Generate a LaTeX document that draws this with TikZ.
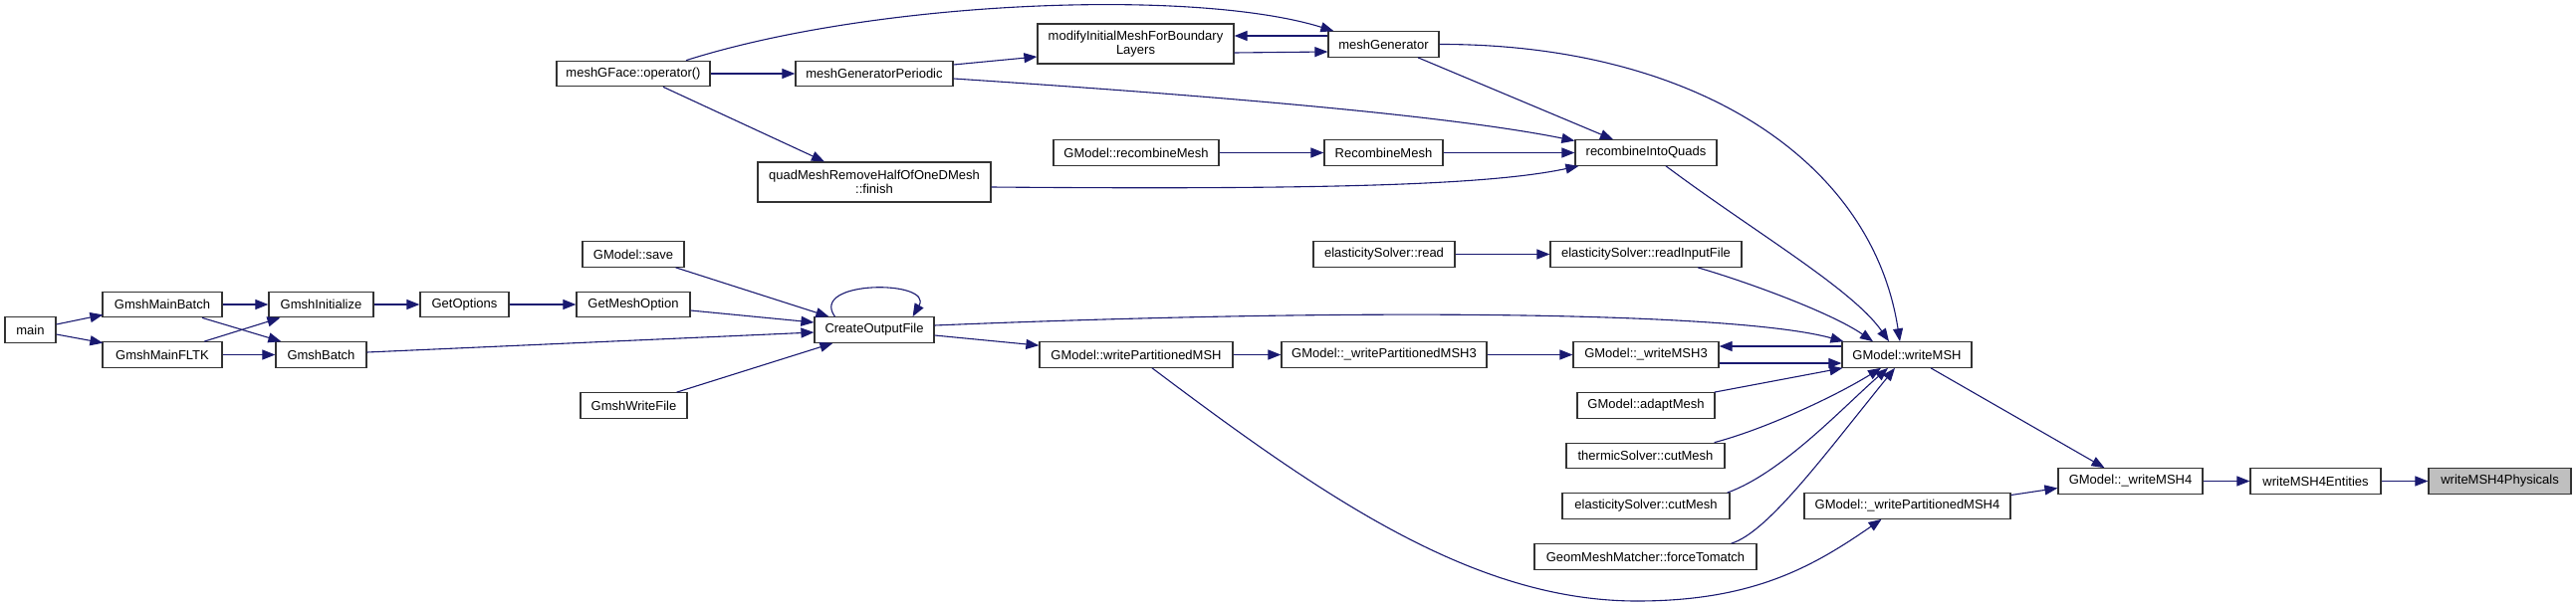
\documentclass[tikz,border=0pt]{standalone}
\usepackage{fontspec}
\setmainfont{Liberation Sans}
\usetikzlibrary{arrows.meta,calc}
\definecolor{edgeblue}{HTML}{191970}
\definecolor{hilite}{HTML}{BFBFBF}
\begin{document}
\begin{tikzpicture}[x=1pt,y=-1pt,
  fn/.style={draw=black!80,line width=1.2pt,fill=white,inner sep=0pt,minimum height=25.5pt,align=center,font=\fontsize{13}{14.5}\selectfont},
  fntwo/.style={fn,minimum height=40pt},
  call/.style={draw=edgeblue,line width=1.1pt,-{Triangle[length=13pt,width=10pt]}}]
\useasboundingbox (0,0) rectangle (2587,608);
% nodes
\node[fn,minimum width=51pt] (main) at (30.5,331.5) {main};
\node[fn,minimum width=120pt] (mbatch) at (163,306) {GmshMainBatch};
\node[fn,minimum width=120pt] (mfltk) at (163,356.5) {GmshMainFLTK};
\node[fn,minimum width=105pt] (ginit) at (322.5,306) {GmshInitialize};
\node[fn,minimum width=91pt] (gbatch) at (322.5,356.5) {GmshBatch};
\node[fn,minimum width=89pt] (getopt) at (466.5,306) {GetOptions};
\node[fn,minimum width=114pt] (getmesh) at (636,306) {GetMeshOption};
\node[fn,minimum width=102pt] (gsave) at (636,255.5) {GModel::save};
\node[fn,minimum width=107pt] (gwrite) at (636.5,407.5) {GmshWriteFile};
\node[fn,minimum width=120pt] (cof) at (878,331.5) {CreateOutputFile};
\node[fn,minimum width=154pt] (mgface) at (636,74) {meshGFace::operator()};
\node[fn,minimum width=158pt] (mgperiodic) at (878,74) {meshGeneratorPeriodic};
\node[fntwo,minimum width=234pt] (quadfin) at (878,183) {quadMeshRemoveHalfOfOneDMesh\\::finish};
\node[fntwo,minimum width=197pt] (modinit) at (1140.5,44) {modifyInitialMeshForBoundary\\Layers};
\node[fn,minimum width=111pt] (meshgen) at (1389.5,44.5) {meshGenerator};
\node[fn,minimum width=166pt] (grecomb) at (1141,153.5) {GModel::recombineMesh};
\node[fn,minimum width=119pt] (recomb) at (1389.5,153.5) {RecombineMesh};
\node[fn,minimum width=142pt] (recquads) at (1653,153.5) {recombineIntoQuads};
\node[fn,minimum width=142pt] (esread) at (1390,255.5) {elasticitySolver::read};
\node[fn,minimum width=192pt] (esreadin) at (1653,255.5) {elasticitySolver::readInputFile};
\node[fn,minimum width=194pt] (wpart) at (1141,356.5) {GModel::writePartitionedMSH};
\node[fn,minimum width=206pt] (wpart3) at (1390,356.5) {GModel::\_writePartitionedMSH3};
\node[fn,minimum width=146pt] (wmsh3) at (1653,356.5) {GModel::\_writeMSH3};
\node[fn,minimum width=130pt] (wmsh) at (1915,356.5) {GModel::writeMSH};
\node[fn,minimum width=138pt] (adapt) at (1653,407.5) {GModel::adaptMesh};
\node[fn,minimum width=159pt] (thermic) at (1652.5,458) {thermicSolver::cutMesh};
\node[fn,minimum width=168pt] (escut) at (1653,508.5) {elasticitySolver::cutMesh};
\node[fn,minimum width=223pt] (gmm) at (1652.5,559.5) {GeomMeshMatcher::forceTomatch};
\node[fn,minimum width=207pt] (wpart4) at (1915.5,508.5) {GModel::\_writePartitionedMSH4};
\node[fn,minimum width=145pt] (wmsh4) at (2139.5,483.5) {GModel::\_writeMSH4};
\node[fn,minimum width=131pt] (wmsh4ent) at (2325.5,483.5) {writeMSH4Entities};
\node[fn,minimum width=143pt,fill=hilite] (wmsh4phys) at (2510.5,483.5) {writeMSH4Physicals};
% edges
\draw[call] ($(main.east)+(0,-5.5)$) -- ($(mbatch.south west)+(1,-3)$);
\draw[call] ($(main.east)+(0,4.5)$) -- ($(mfltk.north west)+(1,1.5)$);
\draw[call] (mbatch.east) -- (ginit.west);
\draw[call] ($(mbatch.south)+(40,0)$) -- ($(gbatch.north west)+(6,0)$);
\draw[call] ($(mfltk.north)+(42,0)$) -- ($(ginit.south west)+(12,0)$);
\draw[call] (mfltk.east) -- (gbatch.west);
\draw[call] (ginit.east) -- (getopt.west);
\draw[call] (getopt.east) -- (getmesh.west);
\draw[call] ($(getmesh.east)+(0,6)$) -- ($(cof.west)+(0,-7.5)$);
\draw[call] ($(gsave.south east)+(-9,0)$) -- ($(cof.north west)+(15,0)$);
\draw[call] ($(gbatch.east)+(0,-2.5)$) -- ($(cof.west)+(0,2.5)$);
\draw[call] ($(gwrite.north east)+(-11,0)$) -- ($(cof.south west)+(19,0)$);
\draw[call] ($(cof.north west)+(21,0)$) .. controls (812,281) and (938,281) .. ($(cof.north east)+(-22,0)$);
\draw[call] ($(cof.east)+(0,-4.5)$) .. controls (1400,308) and (1750,315) .. ($(wmsh.north west)+(2,0)$);
\draw[call] ($(cof.east)+(0,5.5)$) -- ($(wpart.north west)+(0,4)$);
\draw[call] (wpart.east) -- (wpart3.west);
\draw[draw=edgeblue,line width=1.1pt] ($(wpart.south)+(16,0)$) .. controls (1330,500) and (1480,604) .. (1644,604) coordinate (wbot);
\draw[call] (wbot) .. controls (1760,604) and (1820,570) .. ($(wpart4.south)+(-26,0)$);
\draw[call] (wpart3.east) -- (wmsh3.west);
\draw[call] ($(wmsh.west)+(0,-8.5)$) -- ($(wmsh3.east)+(0,-8.5)$);
\draw[call] ($(wmsh3.east)+(0,8.5)$) -- ($(wmsh.west)+(0,8.5)$);
\draw[call] ($(adapt.north east)+(-1,0)$) -- ($(wmsh.south west)+(1,0)$);
\draw[call] ($(thermic.north east)+(-11,0)$) .. controls (1770,432) and (1840,400) .. ($(wmsh.south)+(-26,0)$);
\draw[call] ($(escut.north east)+(-3,0)$) .. controls (1790,475) and (1850,410) .. ($(wmsh.south)+(-19,0)$);
\draw[call] ($(gmm.north east)+(-26,0)$) .. controls (1775,535) and (1830,460) .. ($(wmsh.south)+(-12,0)$);
\draw[call] ($(esreadin.south)+(52,0)$) .. controls (1760,285) and (1840,315) .. ($(wmsh.north)+(-34,0)$);
\draw[call] ($(recquads.south)+(20,0)$) .. controls (1760,232) and (1860,290) .. ($(wmsh.north)+(-18,0)$);
\draw[call] (meshgen.east) .. controls (1700,44) and (1880,160) .. ($(wmsh.north)+(-7,0)$);
\draw[call] ($(meshgen.south)+(34.5,0)$) -- ($(recquads.north)+(-33,0)$);
\draw[call] ($(mgperiodic.east)+(0,5)$) .. controls (1200,95) and (1450,115) .. ($(recquads.west)+(0,-12)$);
\draw[call] (recomb.east) -- (recquads.west);
\draw[call] (grecomb.east) -- (recomb.west);
\draw[call] ($(quadfin.east)+(0,5)$) .. controls (1350,191) and (1500,185) .. ($(recquads.south west)+(4,0)$);
\draw[call] (esread.east) -- (esreadin.west);
\draw[call] (mgface.east) -- (mgperiodic.west);
\draw[call] ($(mgface.north)+(53,0)$) .. controls (880,0) and (1200,-12) .. ($(meshgen.north west)+(6,0)$);
\draw[call] ($(mgface.south)+(30,0)$) -- ($(quadfin.north)+(-50,0)$);
\draw[call] ($(mgperiodic.east)+(0,-9)$) -- ($(modinit.west)+(0,13)$);
\draw[call] ($(meshgen.west)+(0,-8.5)$) -- ($(modinit.east)+(0,-8)$);
\draw[call] ($(modinit.east)+(0,9)$) -- ($(meshgen.west)+(0,7.5)$);
\draw[call] ($(wmsh.south)+(24,0)$) -- ($(wmsh4.north)+(-26,0)$);
\draw[call] ($(wpart4.east)+(0,-11)$) -- ($(wmsh4.west)+(0,7)$);
\draw[call] (wmsh4.east) -- (wmsh4ent.west);
\draw[call] (wmsh4ent.east) -- (wmsh4phys.west);
\end{tikzpicture}
\end{document}
